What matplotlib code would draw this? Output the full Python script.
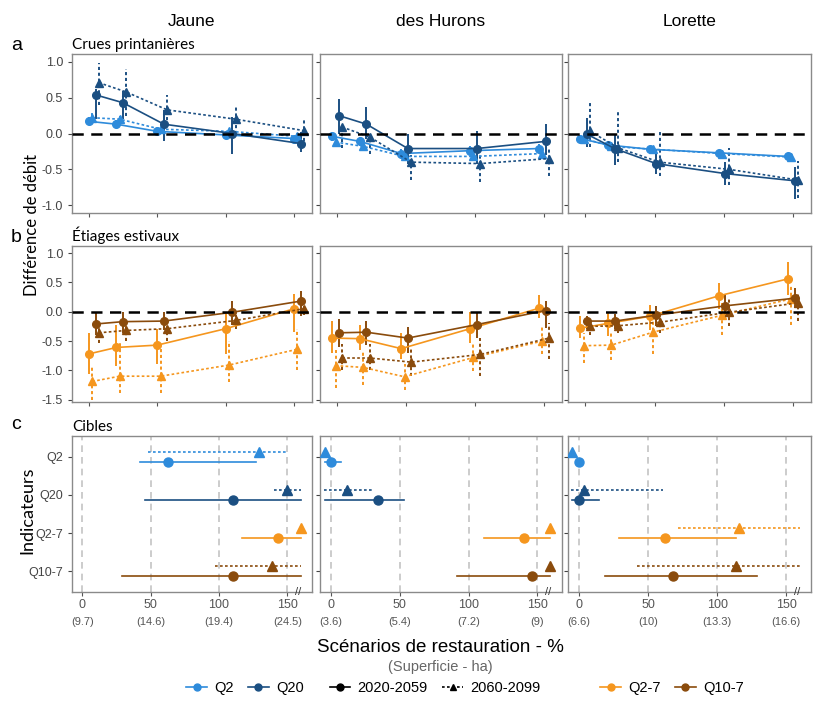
import numpy as np
import matplotlib.pyplot as plt
from matplotlib.lines import Line2D
import matplotlib.transforms as mtransforms

plt.rcParams['font.family'] = ['Liberation Sans', 'DejaVu Sans']
plt.rcParams['axes.unicode_minus'] = False

# ---- data ----
rivers = ["Jaune", "des Hurons", "Lorette"]
scenarios = [0, 20, 50, 100, 150]
# surface (ha) for ticks 0, 50, 100, 150
ha_labels = {
    "Jaune": ["(9.7)", "(14.6)", "(19.4)", "(24.5)"],
    "des Hurons": ["(3.6)", "(5.4)", "(7.2)", "(9)"],
    "Lorette": ["(6.6)", "(10)", "(13.3)", "(16.6)"],
}

# crues printanieres : mean, low, high
crues_jaune = {
    "Q2_2020": ([0.17, 0.13, 0.03, -0.02, -0.07],
                [0.12, 0.09, 0.00, -0.05, -0.11], [0.23, 0.19, 0.07, 0.02, -0.03]),
    "Q2_2060": ([0.22, 0.20, 0.06, 0.03, -0.04],
                [0.16, 0.14, 0.02, -0.01, -0.09], [0.28, 0.25, 0.10, 0.07, 0.01]),
    "Q20_2020": ([0.54, 0.43, 0.13, 0.00, -0.14],
                 [0.20, 0.20, -0.10, -0.28, -0.26], [0.62, 0.60, 0.33, 0.23, 0.02]),
    "Q20_2060": ([0.71, 0.58, 0.33, 0.20, 0.04],
                 [0.40, 0.25, 0.10, 0.00, -0.10], [0.98, 0.90, 0.54, 0.39, 0.22]),
}
crues_hurons = {
    "Q2_2020": ([-0.04, -0.11, -0.28, -0.24, -0.21],
                [-0.10, -0.17, -0.34, -0.30, -0.27], [0.02, -0.05, -0.22, -0.18, -0.15]),
    "Q2_2060": ([-0.12, -0.18, -0.32, -0.32, -0.28],
                [-0.19, -0.25, -0.39, -0.39, -0.35], [-0.05, -0.11, -0.25, -0.25, -0.21]),
    "Q20_2020": ([0.25, 0.13, -0.21, -0.21, -0.11],
                 [0.00, -0.08, -0.42, -0.42, -0.30], [0.48, 0.37, 0.00, 0.04, 0.13]),
    "Q20_2060": ([0.09, -0.05, -0.40, -0.42, -0.35],
                 [-0.20, -0.28, -0.65, -0.68, -0.60], [0.12, 0.00, -0.30, -0.30, -0.20]),
}
crues_lorette = {
    "Q2_2020": ([-0.07, -0.16, -0.22, -0.27, -0.32],
                [-0.11, -0.20, -0.26, -0.31, -0.36], [-0.03, -0.12, -0.18, -0.23, -0.28]),
    "Q2_2060": ([-0.07, -0.18, -0.22, -0.28, -0.33],
                [-0.11, -0.22, -0.26, -0.32, -0.37], [-0.03, -0.14, -0.18, -0.24, -0.29]),
    "Q20_2020": ([-0.01, -0.21, -0.42, -0.56, -0.66],
                 [-0.19, -0.44, -0.57, -0.72, -0.91], [0.22, -0.02, -0.23, -0.40, -0.47]),
    "Q20_2060": ([0.03, -0.20, -0.40, -0.50, -0.65],
                 [-0.19, -0.40, -0.60, -0.72, -0.90], [0.44, 0.30, 0.05, -0.20, -0.39]),
}

# etiages estivaux : mean, low, high
etiages_jaune = {
    "Q2-7_2020": ([-0.72, -0.61, -0.57, -0.29, 0.05],
                  [-1.07, -0.92, -0.90, -0.72, -0.34], [-0.36, -0.22, -0.30, -0.04, 0.31]),
    "Q2-7_2060": ([-1.19, -1.10, -1.10, -0.91, -0.64],
                  [-1.50, -1.38, -1.38, -1.20, -1.00], [-0.95, -0.50, -0.60, -0.50, -0.30]),
    "Q10-7_2020": ([-0.21, -0.17, -0.16, -0.01, 0.18],
                   [-0.40, -0.37, -0.31, -0.22, -0.07], [0.00, 0.00, 0.00, 0.18, 0.35]),
    "Q10-7_2060": ([-0.36, -0.32, -0.29, -0.15, 0.05],
                   [-0.54, -0.50, -0.50, -0.30, -0.05], [-0.25, -0.20, -0.15, -0.05, 0.15]),
}
etiages_hurons = {
    "Q2-7_2020": ([-0.45, -0.46, -0.63, -0.29, 0.06],
                  [-0.70, -0.66, -0.81, -0.54, -0.10], [-0.16, -0.22, -0.36, -0.01, 0.29]),
    "Q2-7_2060": ([-0.92, -0.95, -1.11, -0.78, -0.50],
                  [-1.30, -1.25, -1.34, -1.01, -0.72], [-0.66, -0.69, -0.89, -0.51, -0.22]),
    "Q10-7_2020": ([-0.36, -0.35, -0.45, -0.22, 0.02],
                   [-0.60, -0.57, -0.71, -0.45, -0.28], [-0.13, -0.16, -0.26, 0.00, 0.18]),
    "Q10-7_2060": ([-0.79, -0.79, -0.86, -0.73, -0.45],
                   [-1.00, -1.00, -1.10, -1.10, -0.80], [-0.55, -0.55, -0.60, -0.45, -0.20]),
}
etiages_lorette = {
    "Q2-7_2020": ([-0.28, -0.20, -0.08, 0.27, 0.56],
                  [-0.45, -0.42, -0.31, 0.05, 0.28], [-0.07, -0.01, 0.12, 0.49, 0.84]),
    "Q2-7_2060": ([-0.58, -0.57, -0.35, -0.06, 0.22],
                  [-0.88, -0.82, -0.73, -0.39, -0.22], [-0.36, -0.36, -0.10, 0.14, 0.43]),
    "Q10-7_2020": ([-0.16, -0.16, -0.06, 0.10, 0.23],
                   [-0.30, -0.29, -0.24, -0.10, 0.06], [-0.07, -0.04, 0.10, 0.28, 0.41]),
    "Q10-7_2060": ([-0.25, -0.24, -0.18, -0.01, 0.15],
                   [-0.39, -0.37, -0.37, -0.25, -0.16], [-0.13, -0.13, 0.00, 0.22, 0.31]),
}

# cibles : indicator -> (value, low, high) ; None range = point only
indicators = ["Q2", "Q20", "Q2-7", "Q10-7"]
cibles_jaune = {
    "2020": [(63, 42, 127), (110, 46, 160), (143, 117, 160), (110, 29, 160)],
    "2060": [(129, 48, 150), (150, 140, 160), (160, None, None), (139, 97, 160)],
}
cibles_hurons = {
    "2020": [(0, -4.6, 7), (34, -4.6, 53), (140.5, 111, 159.5), (146.5, 91.5, 159.5)],
    "2060": [(-4.6, None, None), (11.4, -5, 29.6), (159.5, None, None), (159.5, None, None)],
}
cibles_lorette = {
    "2020": [(0, 0, 3), (0, -5.3, 14.6), (62.6, 28.6, 113.6), (68.4, 19, 128.6)],
    "2060": [(-4.9, None, None), (3.6, -5.8, 60.7), (115.8, 71.6, 159.7), (113.6, 41.7, 159.7)],
}

crues = [crues_jaune, crues_hurons, crues_lorette]
etiages = [etiages_jaune, etiages_hurons, etiages_lorette]
cibles = [cibles_jaune, cibles_hurons, cibles_lorette]

# ---- style ----
colors = {"Q2": "#2E8BDB", "Q20": "#1B4F82", "Q2-7": "#F5961E", "Q10-7": "#8A4B0C"}
dodge = {"2020": (-3.6, 1.2), "2060": (-1.2, 3.6)}   # (first indicator, second indicator)
river_shift = [3.5, 0.0, 0.0]
frame_col = "#8a8a8a"
dotted = (0, (1.6, 1.4))

W, H = 817, 709
fig = plt.figure(figsize=(W / 100, H / 100), dpi=100)

cols_px = [(72, 312), (320, 562), (568, 811)]
rows_px = [(54, 213), (246, 402), (436, 592)]


def add_ax(r, c):
    x0, x1 = cols_px[c]
    y0, y1 = rows_px[r]
    ax = fig.add_axes([x0 / W, 1 - y1 / H, (x1 - x0) / W, (y1 - y0) / H])
    for s in ax.spines.values():
        s.set_color(frame_col)
        s.set_linewidth(1.0)
    ax.tick_params(colors="#444444", labelsize=9, length=3, width=0.8)
    ax.tick_params(axis="x", colors="#555555")
    return ax


def draw_line_panel(ax, data, names, shift):
    for name, pos in zip(names, [0, 1]):
        for per in ["2020", "2060"]:
            m, lo, hi = data[f"{name}_{per}"]
            x = np.array(scenarios) + dodge[per][pos] + shift
            m, lo, hi = map(np.array, (m, lo, hi))
            ls = "-" if per == "2020" else dotted
            mk = "o" if per == "2020" else "^"
            ax.vlines(x, lo, hi, color=colors[name], lw=1.4, linestyles=ls, zorder=2)
            ax.plot(x, m, color=colors[name], lw=1.2, ls=ls, marker=mk,
                    ms=5.5 if mk == "o" else 6, zorder=3)
    ax.axhline(0, color="black", lw=1.8, ls=(0, (4.5, 3)), zorder=4)
    ax.set_xlim(-12.5, 163)
    ax.set_xticks([0, 50, 100, 150])
    ax.set_xticklabels([])


for c in range(3):
    # row a
    ax = add_ax(0, c)
    draw_line_panel(ax, crues[c], ["Q2", "Q20"], river_shift[c])
    ax.set_ylim(-1.11, 1.11)
    ax.set_yticks([-1, -0.5, 0, 0.5, 1])
    if c == 0:
        ax.set_yticklabels(["-1.0", "-0.5", "0.0", "0.5", "1.0"])
        ax.text(0, 1.015, "Crues printanières", transform=ax.transAxes,
                fontsize=11, family="Lato", va="bottom", ha="left")
    else:
        ax.set_yticklabels([])

    # row b
    ax = add_ax(1, c)
    draw_line_panel(ax, etiages[c], ["Q2-7", "Q10-7"], river_shift[c])
    ax.set_ylim(-1.54, 1.12)
    ax.set_yticks([-1.5, -1, -0.5, 0, 0.5, 1])
    if c == 0:
        ax.set_yticklabels(["-1.5", "-1.0", "-0.5", "0.0", "0.5", "1.0"])
        ax.text(0, 1.015, "Étiages estivaux", transform=ax.transAxes,
                fontsize=11, family="Lato", va="bottom", ha="left")
    else:
        ax.set_yticklabels([])

    # row c
    ax = add_ax(2, c)
    ax.set_xlim(-7.5 if c == 0 else -8, 168)
    ax.set_ylim(0.45, 4.55)
    for xv in [0, 50, 100, 150]:
        ax.axvline(xv, color="#c4c4c4", lw=1.2, ls=(0, (4, 3)), zorder=1)
    ypos = np.arange(len(indicators), 0, -1)
    for per, off in [("2020", -0.13), ("2060", 0.13)]:
        for i, ind in enumerate(indicators):
            v, lo, hi = cibles[c][per][i]
            y = ypos[i] + off
            ls = "-" if per == "2020" else dotted
            if lo is not None:
                ax.plot([lo, hi], [y, y], color=colors[ind], lw=1.2, ls=ls, zorder=2)
            ax.plot([v], [y], color=colors[ind], marker="o" if per == "2020" else "^",
                    ms=6.5 if per == "2020" else 7, ls="none", zorder=3)
    ax.set_yticks(ypos)
    if c == 0:
        ax.set_yticklabels(indicators)
        ax.tick_params(axis="y", labelsize=9)
        ax.text(0, 1.015, "Cibles", transform=ax.transAxes,
                fontsize=11, family="Lato", va="bottom", ha="left")
    else:
        ax.set_yticklabels([])
    ax.set_xticks([0, 50, 100, 150])
    ax.set_xticklabels(["0", "50", "100", "150"])
    ax.tick_params(axis="x", pad=2, labelsize=9)
    trans = mtransforms.blended_transform_factory(ax.transData, ax.transAxes)
    for xv, lab in zip([0, 50, 100, 150], ha_labels[rivers[c]]):
        ax.text(xv, -0.195, lab, transform=trans, ha="center", va="center",
                fontsize=8, color="#555555")
    ax.text(158, 0.0, "//", transform=trans, ha="center", va="center",
            fontsize=8, color="#333333", zorder=5)

    # column title
    x0, x1 = cols_px[c]
    fig.text((x0 + x1) / 2 / W, 1 - 22 / H, rivers[c], ha="center", va="center", fontsize=12.5)

# panel letters and axis labels
for lab, ypx in [("a", 45), ("b", 238), ("c", 425)]:
    fig.text(11 / W, 1 - ypx / H, lab, ha="left", va="center", fontsize=14)
fig.text(32 / W, 1 - 225 / H, "Différence de débit", rotation=90, ha="center", va="center",
         fontsize=12, family="Lato")
fig.text(27 / W, 1 - 510 / H, "Indicateurs", rotation=90, ha="center", va="center",
         fontsize=13, family="Lato")
fig.text(440 / W, 1 - 648 / H, "Scénarios de restauration - %", ha="center", va="center",
         fontsize=13.5)
fig.text(440 / W, 1 - 667 / H, "(Superficie - ha)", ha="center", va="center",
         fontsize=10.5, color="#666666")

# legends
def h(color, marker="o", ls="-"):
    return Line2D([0], [0], color=color, marker=marker, ls=ls, lw=1.2, ms=5)

leg_kw = dict(loc="center", ncol=2, frameon=False, fontsize=10.5, handlelength=1.4,
              handletextpad=0.5, columnspacing=1.0)
fig.legend([h(colors["Q2"]), h(colors["Q20"])], ["Q2", "Q20"],
           bbox_to_anchor=(245 / W, 1 - 688 / H), **leg_kw)
fig.legend([h("black"), h("black", "^", dotted)], ["2020-2059", "2060-2099"],
           bbox_to_anchor=(435 / W, 1 - 688 / H), **leg_kw)
fig.legend([h(colors["Q2-7"]), h(colors["Q10-7"])], ["Q2-7", "Q10-7"],
           bbox_to_anchor=(672 / W, 1 - 688 / H), **leg_kw)

fig.savefig("out.png", dpi=100)
